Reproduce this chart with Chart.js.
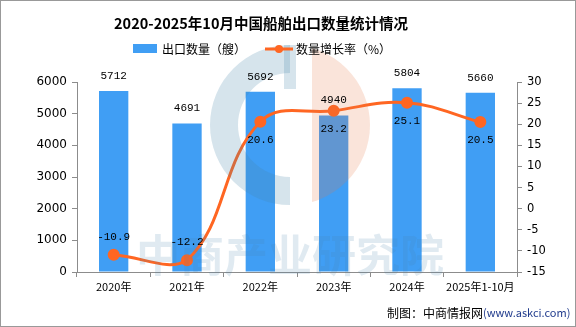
<!DOCTYPE html>
<html>
<head>
<meta charset="utf-8">
<script src="https://cdn.jsdelivr.net/npm/chart.js@4.4.1/dist/chart.umd.min.js"></script>
<style>
  html, body { margin: 0; padding: 0; background: #fff; }
  canvas { display: block; }
</style>
</head>
<body>
<canvas id="shipChart" width="576" height="327"></canvas>
<script>
// --- DATA ---
const years = ['2020年', '2021年', '2022年', '2023年', '2024年', '2025年1-10月'];
const exportCount = [5712, 4691, 5692, 4940, 5804, 5660];
const growthRate = [-10.9, -12.2, 20.6, 23.2, 25.1, 20.5];
const leftTicks = [0, 1000, 2000, 3000, 4000, 5000, 6000];
const rightTicks = [-15, -10, -5, 0, 5, 10, 15, 20, 25, 30];

const titleText = '2020-2025年10月中国船舶出口数量统计情况';
const barLegend = '出口数量（艘）';
const lineLegend = '数量增长率（%）';

const BAR_COLOR = '#409ef4';
const LINE_COLOR = '#ff6622';
const AXIS_COLOR = '#8c8c8c';
const CJK = "'Noto Sans CJK SC', 'DejaVu Sans', sans-serif";
const MONO = "'Liberation Mono', 'DejaVu Sans Mono', monospace";

// --- PLUGINS ---
// title, legend, credit line and frame
const decorPlugin = {
    id: 'decor',
    afterDraw(chart) {
        const ctx = chart.ctx;
        ctx.save();

        ctx.fillStyle = '#000';
        ctx.font = 'bold 14.5px ' + CJK;
        ctx.textAlign = 'center';
        ctx.textBaseline = 'middle';
        ctx.fillText(titleText, 261, 23);

        // legend
        ctx.font = '12px ' + CJK;
        ctx.textAlign = 'left';
        ctx.fillStyle = BAR_COLOR;
        ctx.fillRect(133, 44, 24, 9);
        ctx.fillStyle = '#000';
        ctx.fillText(barLegend, 162, 49);

        ctx.strokeStyle = LINE_COLOR;
        ctx.lineWidth = 3;
        ctx.beginPath();
        ctx.moveTo(265, 49);
        ctx.lineTo(293, 49);
        ctx.stroke();
        ctx.fillStyle = LINE_COLOR;
        ctx.beginPath();
        ctx.arc(279, 49, 4, 0, Math.PI * 2);
        ctx.fill();
        ctx.fillStyle = '#000';
        ctx.fillText(lineLegend, 296, 49);

        // credit
        ctx.font = '12px ' + CJK;
        ctx.fillText('制图：中商情报网', 387, 313);
        ctx.font = '11px ' + CJK;
        ctx.fillStyle = '#1f3a8c';
        ctx.fillText('(www.askci.com)', 483, 313);

        // frame
        ctx.strokeStyle = '#999';
        ctx.lineWidth = 1;
        ctx.strokeRect(0.5, 0.5, chart.width - 1, chart.height - 1);
        ctx.restore();
    }
};

// faint logo and name over the bars
const watermarkPlugin = {
    id: 'watermark',
    afterDatasetsDraw(chart) {
        const ctx = chart.ctx;
        const cx = 290, cy = 125, r = 80;
        ctx.save();

        ctx.fillStyle = 'rgba(70,130,170,0.22)';
        ctx.beginPath();
        ctx.arc(cx, cy, r, Math.PI / 2, Math.PI * 1.5);
        ctx.lineTo(cx, cy - 52);
        ctx.arc(cx, cy, 52, Math.PI * 1.5, Math.PI / 2, true);
        ctx.closePath();
        ctx.fill();
        ctx.fillRect(cx - 6, cy - r, 12, 44);

        ctx.fillStyle = 'rgba(230,120,70,0.2)';
        ctx.beginPath();
        ctx.rect(312, cy - r, r, r * 2);
        ctx.clip();
        ctx.beginPath();
        ctx.arc(cx, cy, r, -Math.PI / 2, Math.PI / 2);
        ctx.closePath();
        ctx.fill();
        ctx.restore();

        ctx.save();
        ctx.fillStyle = 'rgba(70,130,170,0.17)';
        ctx.font = 'bold 44px ' + CJK;
        ctx.textAlign = 'center';
        ctx.textBaseline = 'middle';
        ctx.fillText('中商产业研究院', 290, 255);
        ctx.restore();
    }
};

// value labels: counts above bars, rates beside points
const valueLabelPlugin = {
    id: 'valueLabels',
    afterDatasetsDraw(chart) {
        const ctx = chart.ctx;
        ctx.save();
        ctx.fillStyle = '#000';
        ctx.font = '11px ' + MONO;
        ctx.textAlign = 'center';
        ctx.textBaseline = 'middle';

        chart.getDatasetMeta(0).data.forEach((bar, i) => {
            ctx.fillText(String(exportCount[i]), bar.x, bar.y - 15);
        });
        chart.getDatasetMeta(1).data.forEach((pt, i) => {
            const v = growthRate[i];
            const dy = v < 0 ? -18 : 18;
            ctx.fillText(v.toFixed(1), pt.x, pt.y + dy);
        });
        ctx.restore();
    }
};

// --- CHART ---
function fixWidth(w) {
    return scale => { scale.width = w; };
}

new Chart(document.getElementById('shipChart'), {
    data: {
        labels: years,
        datasets: [
            {
                type: 'bar',
                label: barLegend,
                data: exportCount,
                backgroundColor: BAR_COLOR,
                barPercentage: 0.4,
                categoryPercentage: 1,
                yAxisID: 'y',
                order: 2
            },
            {
                type: 'line',
                label: lineLegend,
                data: growthRate,
                borderColor: LINE_COLOR,
                backgroundColor: LINE_COLOR,
                borderWidth: 3,
                pointRadius: 4.5,
                pointHoverRadius: 4.5,
                tension: 0.4,
                yAxisID: 'y1',
                order: 1
            }
        ]
    },
    options: {
        responsive: false,
        animation: false,
        devicePixelRatio: 1,
        layout: { padding: { top: 82, left: 0, right: 0, bottom: 0 } },
        plugins: {
            legend: { display: false },
            title: { display: false },
            tooltip: { enabled: false }
        },
        scales: {
            x: {
                offset: true,
                grid: {
                    offset: true,
                    drawOnChartArea: false,
                    tickLength: 5,
                    color: AXIS_COLOR
                },
                border: { color: AXIS_COLOR },
                ticks: {
                    color: '#000',
                    font: { family: CJK, size: 11 },
                    padding: 3,
                    maxRotation: 0,
                    autoSkip: false
                },
                afterFit: scale => { scale.height = 55; }
            },
            y: {
                position: 'left',
                min: 0,
                max: 6000,
                afterBuildTicks: scale => { scale.ticks = leftTicks.map(v => ({ value: v })); },
                grid: { drawOnChartArea: false, tickLength: 5, color: AXIS_COLOR },
                border: { color: AXIS_COLOR },
                ticks: {
                    color: '#000',
                    font: { family: "'DejaVu Sans', sans-serif", size: 12 },
                    padding: 5,
                    callback: v => String(v)
                },
                afterFit: fixWidth(77)
            },
            y1: {
                position: 'right',
                min: -15,
                max: 30,
                afterBuildTicks: scale => { scale.ticks = rightTicks.map(v => ({ value: v })); },
                grid: { drawOnChartArea: false, tickLength: 5, color: AXIS_COLOR },
                border: { color: AXIS_COLOR },
                ticks: {
                    color: '#000',
                    font: { family: "'DejaVu Sans', sans-serif", size: 11.5 },
                    padding: 5,
                    callback: v => String(v)
                },
                afterFit: fixWidth(59)
            }
        }
    },
    plugins: [watermarkPlugin, valueLabelPlugin, decorPlugin]
});
</script>
</body>
</html>
